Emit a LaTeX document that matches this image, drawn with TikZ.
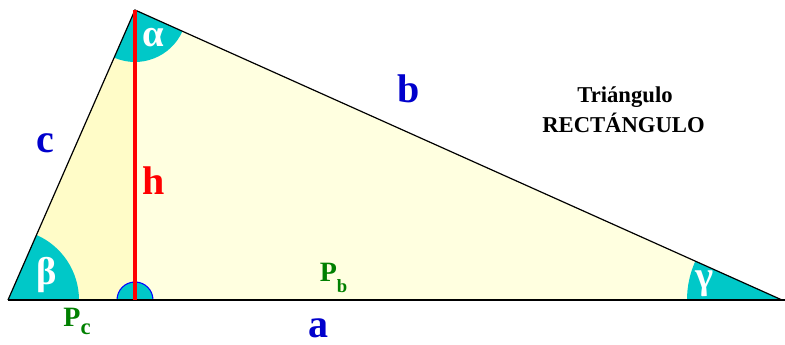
\documentclass[tikz,border=0pt]{standalone}
\usepackage{fontspec}
\setmainfont{Liberation Serif}
\usepackage{xcolor}
\usepackage{tikz}
\usetikzlibrary{positioning}
\definecolor{sideBlue}{RGB}{0,0,204}
\definecolor{heightRed}{RGB}{255,0,0}
\definecolor{projGreen}{RGB}{0,128,0}
\definecolor{angleTeal}{RGB}{0,200,200}
\definecolor{fillLeft}{RGB}{255,252,200}
\definecolor{fillRight}{RGB}{255,255,224}

\begin{document}
\begin{tikzpicture}[x=0.75pt,y=0.75pt,
    sidelabel/.style={font=\fontsize{30}{30}\selectfont\bfseries,anchor=base,inner sep=1pt},
    anglelabel/.style={text=white,font=\fontsize{29}{29}\selectfont\bfseries},
    projlabel/.style={text=projGreen,font=\fontsize{21}{21}\selectfont\bfseries,anchor=base}]
  \useasboundingbox (0,0) rectangle (785,345);
  % Vertices
  \coordinate (B) at (8,45);
  \coordinate (A) at (135,335);
  \coordinate (C) at (782,45);
  \coordinate (H) at (135,45);
  \coordinate (E) at (785,45);
  % Inner fill
  \fill[fillLeft] (B) -- (A) -- (H) -- cycle;
  \fill[fillRight] (H) -- (A) -- (C) -- cycle;
  % Angle sectors
  \fill[angleTeal] (B) -- ++(0:71) arc[start angle=0,end angle=66.35,radius=71] -- cycle;
  \fill[angleTeal] (A) -- ++(246.35:52) arc[start angle=246.35,end angle=335.86,radius=52] -- cycle;
  \fill[angleTeal] (C) -- ++(155.86:95) arc[start angle=155.86,end angle=180,radius=95] -- cycle;
  \filldraw[fill=angleTeal,draw=blue,thick] (H) ++(18,0) arc[start angle=0,end angle=180,radius=18];
  % Sides
  \draw[black,line width=0.9pt] (B) -- (A) -- (C);
  \draw[black,line width=1.4pt] (B) -- (E);
  % Height
  \draw[heightRed,line width=2.4pt] (A) -- (H);
  % Labels
  \node[sidelabel,text=sideBlue] (c) at (45,192) {c};
  \node[sidelabel,text=sideBlue] (b) at (409,242) {b};
  \node[sidelabel,text=sideBlue] (a) at (318,7) {a};
  \node[sidelabel,text=heightRed] (h) at (153.5,150) {h};
  \node[anglelabel] (alpha) at (153.5,307.5) {α};
  \node[anglelabel] (beta) at (47,70) {β};
  \node[anglelabel] (gamma) at (704.5,61) {γ};
  \node[projlabel] (Pb) at (333.5,63) {P\raisebox{-8pt}{\fontsize{14}{14}\selectfont b}};
  \node[projlabel] (Pc) at (77,18) {P\raisebox{-6pt}{\fontsize{17}{17}\selectfont c}};
  % Title
  \node[font=\fontsize{17}{17}\selectfont\bfseries,anchor=base] (title1) at (625,242) {Triángulo};
  \node[font=\fontsize{17}{17}\selectfont\bfseries,anchor=base] (title2) at (623.5,212) {RECTÁNGULO};
\end{tikzpicture}
\end{document}
